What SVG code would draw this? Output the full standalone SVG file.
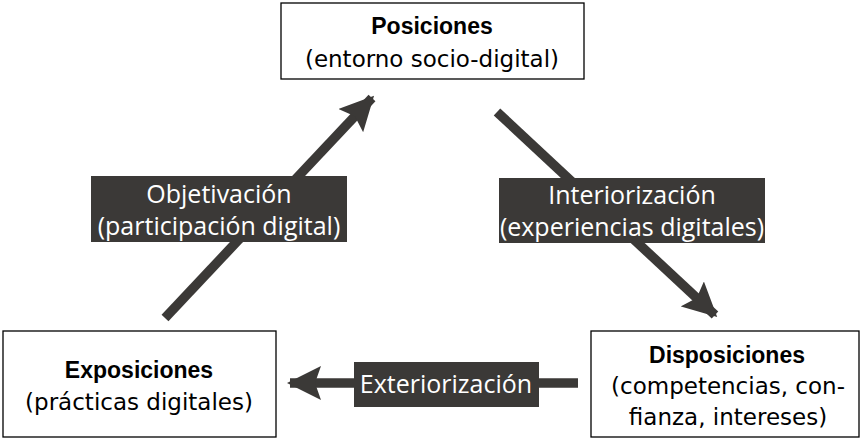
<svg xmlns="http://www.w3.org/2000/svg" width="862" height="440" viewBox="0 0 862 440">
<style>
.box{fill:#fff;stroke:#000;stroke-width:1.3}
.t{font-family:"DejaVu Sans",sans-serif;font-size:23px;fill:#000;text-anchor:middle}
.b{font-family:"Liberation Sans",Arial,sans-serif;font-size:23px;font-weight:bold}
.lbl{fill:#3b3937}
.lt{font-family:"Open Sans","Liberation Sans",sans-serif;font-size:25px;fill:#fff;text-anchor:middle}
.conn{stroke:#3b3937;stroke-width:9.5;fill:none}
</style>
<defs>
<marker id="ah" markerUnits="userSpaceOnUse" markerWidth="36" markerHeight="34" refX="31" refY="17" orient="auto">
<path d="M0,0 L34,17 L0,34 L6,17 Z" fill="#3b3937"/>
</marker>
</defs>
<rect width="862" height="440" fill="#fff"/>
<g id="connectors">
<line class="conn" x1="165" y1="318" x2="372" y2="98" marker-end="url(#ah)"/>
<line class="conn" x1="497" y1="112" x2="715" y2="315" marker-end="url(#ah)"/>
<line class="conn" x1="578" y1="383" x2="290" y2="383" marker-end="url(#ah)"/>
<g id="label-objetivacion">
<rect class="lbl" x="91" y="176" width="256" height="66"/>
<text class="lt" x="219" y="203">Objetivación</text>
<text class="lt" x="219" y="235">(participación digital)</text>
</g>
<g id="label-interiorizacion">
<rect class="lbl" x="499" y="178" width="266" height="65"/>
<text class="lt" x="632" y="204">Interiorización</text>
<text class="lt" x="632" y="236">(experiencias digitales)</text>
</g>
<g id="label-exteriorizacion">
<rect class="lbl" x="354" y="362" width="185" height="45"/>
<text class="lt" x="446" y="393">Exteriorización</text>
</g>
</g>
<g id="posiciones">
<rect class="box" x="281" y="3" width="303" height="76"/>
<text class="t b" x="432" y="34">Posiciones</text>
<text class="t" x="432" y="67">(entorno socio-digital)</text>
</g>
<g id="exposiciones">
<rect class="box" x="3" y="331" width="273" height="106"/>
<text class="t b" x="139" y="378">Exposiciones</text>
<text class="t" x="139" y="410">(prácticas digitales)</text>
</g>
<g id="disposiciones">
<rect class="box" x="591" y="331" width="268" height="106"/>
<text class="t b" x="727" y="363">Disposiciones</text>
<text class="t" x="728" y="394">(competencias, con-</text>
<text class="t" x="728" y="425">fianza, intereses)</text>
</g>
</svg>
